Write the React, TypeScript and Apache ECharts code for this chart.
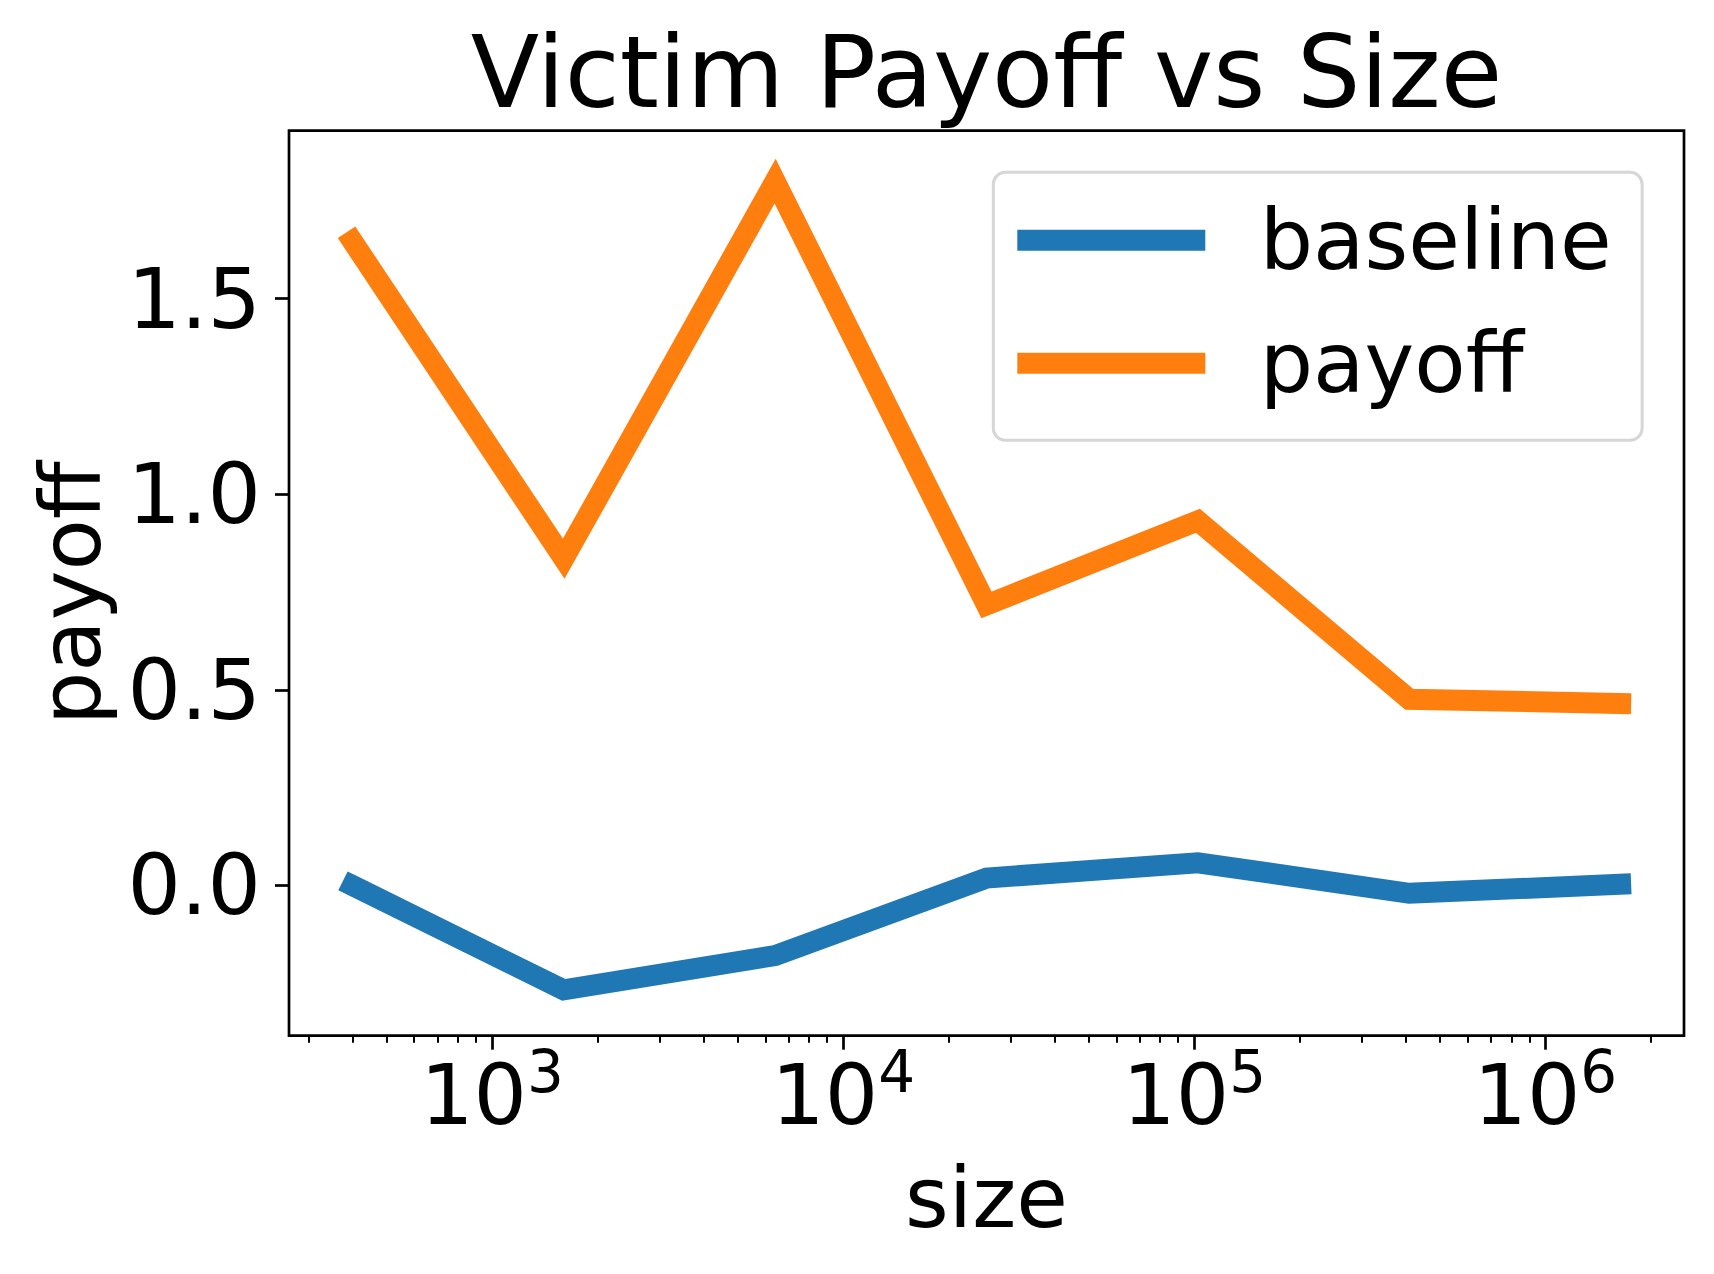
import React, { useEffect, useRef } from "react";
import * as echarts from "echarts";

const FONT = "DejaVu Sans";
const TITLE = "Victim Payoff vs Size";
const X_NAME = "size";
const Y_NAME = "payoff";
const SERIES_NAMES = ["baseline", "payoff"];

const SIZES = [400, 1600, 6400, 25600, 102400, 409600, 1638400];
const BASELINE = [0.0, -0.267, -0.179, 0.019, 0.058, -0.02, 0.003];
const PAYOFF = [1.647, 0.835, 1.8, 0.717, 0.932, 0.476, 0.465];

const X_MAJOR = [1e3, 1e4, 1e5, 1e6];
const X_MINOR = [
  300, 400, 500, 600, 700, 800, 900,
  2000, 3000, 4000, 5000, 6000, 7000, 8000, 9000,
  20000, 30000, 40000, 50000, 60000, 70000, 80000, 90000,
  200000, 300000, 400000, 500000, 600000, 700000, 800000, 900000,
  2000000,
];
const Y_TICKS = [0, 0.5, 1.0, 1.5];

const X_MIN = 264.0;
const X_MAX = 2483000;
const Y_MIN = -0.384;
const Y_MAX = 1.929;

const COLORS = ["#1f77b4", "#ff7f0e"];

export default function App() {
  const ref = useRef<HTMLDivElement>(null);
  useEffect(() => {
    document.body.style.margin = "0";
    const chart = echarts.init(ref.current!, null, { renderer: "svg" });
    const lineSeries = (name: string, vals: number[], color: string) => ({
      name,
      type: "line",
      xAxisIndex: 0,
      yAxisIndex: 0,
      symbol: "none",
      showSymbol: false,
      data: SIZES.map((s, i) => [s, vals[i]]),
      itemStyle: { color },
      lineStyle: { color, width: 21, cap: "square", join: "miter" },
      emphasis: { disabled: true },
    });
    const axisCommon = {
      type: "log",
      logBase: 10,
      min: X_MIN,
      max: X_MAX,
      position: "bottom",
      gridIndex: 0,
      splitLine: { show: false },
      minorTick: { show: false },
      axisLine: { show: false, onZero: false },
    };
    chart.setOption({
      animation: false,
      backgroundColor: "#ffffff",
      textStyle: { fontFamily: FONT },
      grid: {
        left: 289,
        right: 30,
        top: 130.7,
        bottom: 238.3,
        show: true,
        borderColor: "#000",
        borderWidth: 2.7,
        backgroundColor: "transparent",
      },
      graphic: [
        {
          type: "text",
          x: 986.5,
          y: 72.7,
          style: {
            text: TITLE,
            fontSize: 100,
            fontFamily: FONT,
            fill: "#000",
            align: "center",
            verticalAlign: "middle",
          },
        },
      ],
      legend: {
        orient: "vertical",
        left: 993.3,
        top: 172.3,
        icon: "rect",
        itemWidth: 188,
        itemHeight: 21,
        itemGap: 39,
        padding: [26, 30.5, 35, 24],
        borderColor: "#d6d6d6",
        borderWidth: 3,
        borderRadius: 12,
        backgroundColor: "#ffffff",
        selectedMode: false,
        itemStyle: { borderWidth: 0 },
        textStyle: {
          fontSize: 84,
          lineHeight: 84,
          color: "#000",
          fontFamily: FONT,
          padding: [0, 0, 0, 49.5],
        },
        data: SERIES_NAMES,
      },
      xAxis: [
        {
          ...axisCommon,
          name: X_NAME,
          nameLocation: "middle",
          nameGap: 120,
          nameTextStyle: { fontSize: 84, lineHeight: 84, color: "#000", fontFamily: FONT },
          axisTick: {
            show: true,
            customValues: X_MAJOR,
            length: 14,
            lineStyle: { color: "#000", width: 2.7 },
          },
          axisLabel: {
            show: true,
            customValues: X_MAJOR,
            margin: 17,
            color: "#000",
            formatter: (v: number) => `{b|10}{s|${Math.round(Math.log10(v))}}`,
            rich: {
              b: { fontSize: 84, lineHeight: 84, height: 84, fontFamily: FONT, color: "#000" },
              s: {
                fontSize: 58,
                lineHeight: 38,
                height: 38,
                verticalAlign: "top",
                fontFamily: FONT,
                color: "#000",
              },
            },
          },
        },
        {
          ...axisCommon,
          axisTick: {
            show: true,
            customValues: X_MINOR,
            length: 7,
            lineStyle: { color: "#000", width: 2 },
          },
          axisLabel: { show: false },
        },
      ],
      yAxis: {
        type: "value",
        min: Y_MIN,
        max: Y_MAX,
        name: Y_NAME,
        nameLocation: "middle",
        nameRotate: 90,
        nameGap: 176,
        nameTextStyle: {
          fontSize: 84,
          lineHeight: 84,
          color: "#000",
          fontFamily: FONT,
          padding: [0, 20, 0, 0],
        },
        splitLine: { show: false },
        axisLine: { show: false, onZero: false },
        axisTick: {
          show: true,
          customValues: Y_TICKS,
          length: 14,
          lineStyle: { color: "#000", width: 2.7 },
        },
        axisLabel: {
          show: true,
          customValues: Y_TICKS,
          margin: 28,
          fontSize: 84,
          color: "#000",
          fontFamily: FONT,
          formatter: (v: number) => v.toFixed(1),
        },
      },
      series: [
        lineSeries(SERIES_NAMES[0], BASELINE, COLORS[0]),
        lineSeries(SERIES_NAMES[1], PAYOFF, COLORS[1]),
      ],
    });
    return () => chart.dispose();
  }, []);
  return <div ref={ref} style={{ width: 1714, height: 1274, background: "#fff" }} />;
}
